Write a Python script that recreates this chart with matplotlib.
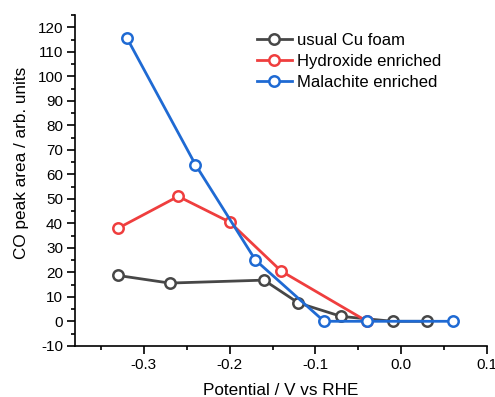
import matplotlib
matplotlib.use('Agg')
import matplotlib.pyplot as plt
from matplotlib.ticker import MultipleLocator

plt.rcParams['font.family'] = ['Liberation Sans', 'DejaVu Sans']

# data
foam_x = [-0.33, -0.27, -0.16, -0.12, -0.07, -0.01, 0.03]
foam_y = [18.7, 15.6, 16.8, 7.5, 2.0, 0.0, 0.0]
hydro_x = [-0.33, -0.26, -0.20, -0.14, -0.04]
hydro_y = [38.0, 51.0, 40.5, 20.5, 0.0]
mala_x = [-0.32, -0.24, -0.17, -0.09, -0.04, 0.06]
mala_y = [115.8, 64.0, 25.0, 0.0, 0.0, 0.0]

labels = ['usual Cu foam', 'Hydroxide enriched', 'Malachite enriched']
colors = ['#474747', '#ef3e3e', '#1f6ad3']

xticks = [-0.3, -0.2, -0.1, 0.0, 0.1]
yticks = list(range(-10, 121, 10))

fig = plt.figure(figsize=(4.95, 3.97), dpi=100)
ax = fig.add_axes([0.152, 0.129, 0.832, 0.833])

for xs, ys, lab, c in zip([foam_x, hydro_x, mala_x], [foam_y, hydro_y, mala_y], labels, colors):
    ax.plot(xs, ys, '-o', color=c, lw=2, ms=7.5, mfc='white', mec=c, mew=1.8, label=lab)

ax.set_xlim(-0.38, 0.1)
ax.set_ylim(-10, 125)
ax.xaxis.set_minor_locator(MultipleLocator(0.05))
ax.yaxis.set_minor_locator(MultipleLocator(5))
ax.set_xticks(xticks)
ax.set_xticklabels([f'{v:.1f}' for v in xticks])
ax.set_yticks(yticks)
ax.set_yticklabels([str(v) for v in yticks])

for s in ['top', 'right']:
    ax.spines[s].set_visible(False)
for s in ['left', 'bottom']:
    ax.spines[s].set_linewidth(1.2)
ax.tick_params(which='major', direction='out', length=6, width=1.2, labelsize=11)
ax.tick_params(which='minor', direction='out', length=3, width=1.2)
ax.tick_params(axis='x', pad=3)
ax.tick_params(axis='y', pad=2.8)

ax.set_xlabel('Potential / V vs RHE', fontsize=12.3, labelpad=8)
ax.set_ylabel('CO peak area / arb. units', fontsize=12.3)
ax.yaxis.set_label_coords(-0.112, 0.554)

ax.legend(loc='upper left', bbox_to_anchor=(0.425, 0.965), frameon=False, fontsize=12,
          handlelength=2.1, handletextpad=0.3, labelspacing=0.35, borderaxespad=0)

fig.savefig('out.png', dpi=100)
